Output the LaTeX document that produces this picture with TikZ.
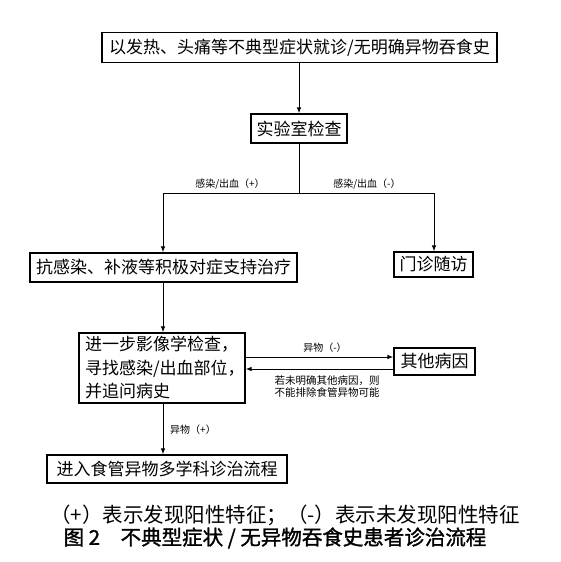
\documentclass[tikz,border=0pt]{standalone}
\usepackage{fontspec}
\setmainfont{Noto Sans CJK SC}
\newfontfamily\cjk{Noto Sans CJK SC}
\newfontfamily\cjkb[FakeBold=1.4]{Noto Sans CJK SC}
\usetikzlibrary{arrows.meta}
\begin{document}
\begin{tikzpicture}[x=1pt,y=-1pt,
  box/.style={draw,line width=1.1pt,inner sep=0pt,font=\cjk\fontsize{17}{20}\selectfont},
  lab/.style={inner sep=0pt,font=\cjk\fontsize{10}{12}\selectfont},
  conn/.style={line width=1pt},
  arr/.style={line width=1pt,-{Latex[length=6pt,width=4.5pt]}},
  captext/.style={inner sep=0pt,font=\cjk\fontsize{20.5}{22}\selectfont}]
\useasboundingbox (0,0) rectangle (560,562);
\node[box,minimum width=395pt,minimum height=30pt] (b1) at (299.5,47.5) {以发热、头痛等不典型症状就诊/无明确异物吞食史};
\node[box,minimum width=96pt,minimum height=29pt] (b2) at (299,128.5) {实验室检查};
\node[box,minimum width=267pt,minimum height=29pt] (b3) at (163.5,267.5) {抗感染、补液等积极对症支持治疗};
\node[box,minimum width=79pt,minimum height=25pt] (b4) at (433.5,264.5) {门诊随访};
\node[box,minimum width=166pt,minimum height=70pt,align=left,text width=154pt,inner xsep=6pt,font=\cjk\fontsize{17}{23.5}\selectfont] (b5) at (162,368) {进一步影像学检查，\\寻找感染/出血部位，\\并追问病史};
\node[box,minimum width=81pt,minimum height=27pt] (b6) at (434.5,361.5) {其他病因};
\node[box,minimum width=240pt,minimum height=28pt] (b7) at (167,469) {进入食管异物多学科诊治流程};
\coordinate (j) at (299,193);
\coordinate (jl) at (163,193);
\coordinate (jr) at (434,193);
\coordinate (h1) at (0,357);
\coordinate (h2) at (0,369);
\draw[arr] (b1.south -| j) -- (b2.north -| j);
\draw[conn] (b2.south -| j) -- (j);
\draw[conn] (jl) -- (jr);
\draw[arr] (jl) -- (jl |- b3.north);
\draw[arr] (jr) -- (jr |- b4.north);
\draw[arr] (jl |- b3.south) -- (jl |- b5.north);
\draw[arr] (b5.east |- h1) -- (b6.west |- h1);
\draw[arr] (b6.west |- h2) -- (b5.east |- h2);
\draw[arr] (jl |- b5.south) -- (jl |- b7.north);
\node[lab] (l1) at (230,184) {感染/出血（+）};
\node[lab] (l2) at (367,184) {感染/出血（-）};
\node[lab] (l3) at (325,348) {异物（-）};
\node[lab,align=center,font=\cjk\fontsize{10.5}{11.5}\selectfont] (l4) at (327,386.5) {若未明确其他病因，则\\不能排除食管异物可能};
\node[lab] (l5) at (193,430) {异物（+）};
\node[captext] (c1) at (285,515) {（+）表示发现阳性特征；（-）表示未发现阳性特征};
\node[captext,font=\cjkb\fontsize{20.5}{22}\selectfont] (c2) at (275,538) {图 2\quad 不典型症状 / 无异物吞食史患者诊治流程};
\end{tikzpicture}
\end{document}
